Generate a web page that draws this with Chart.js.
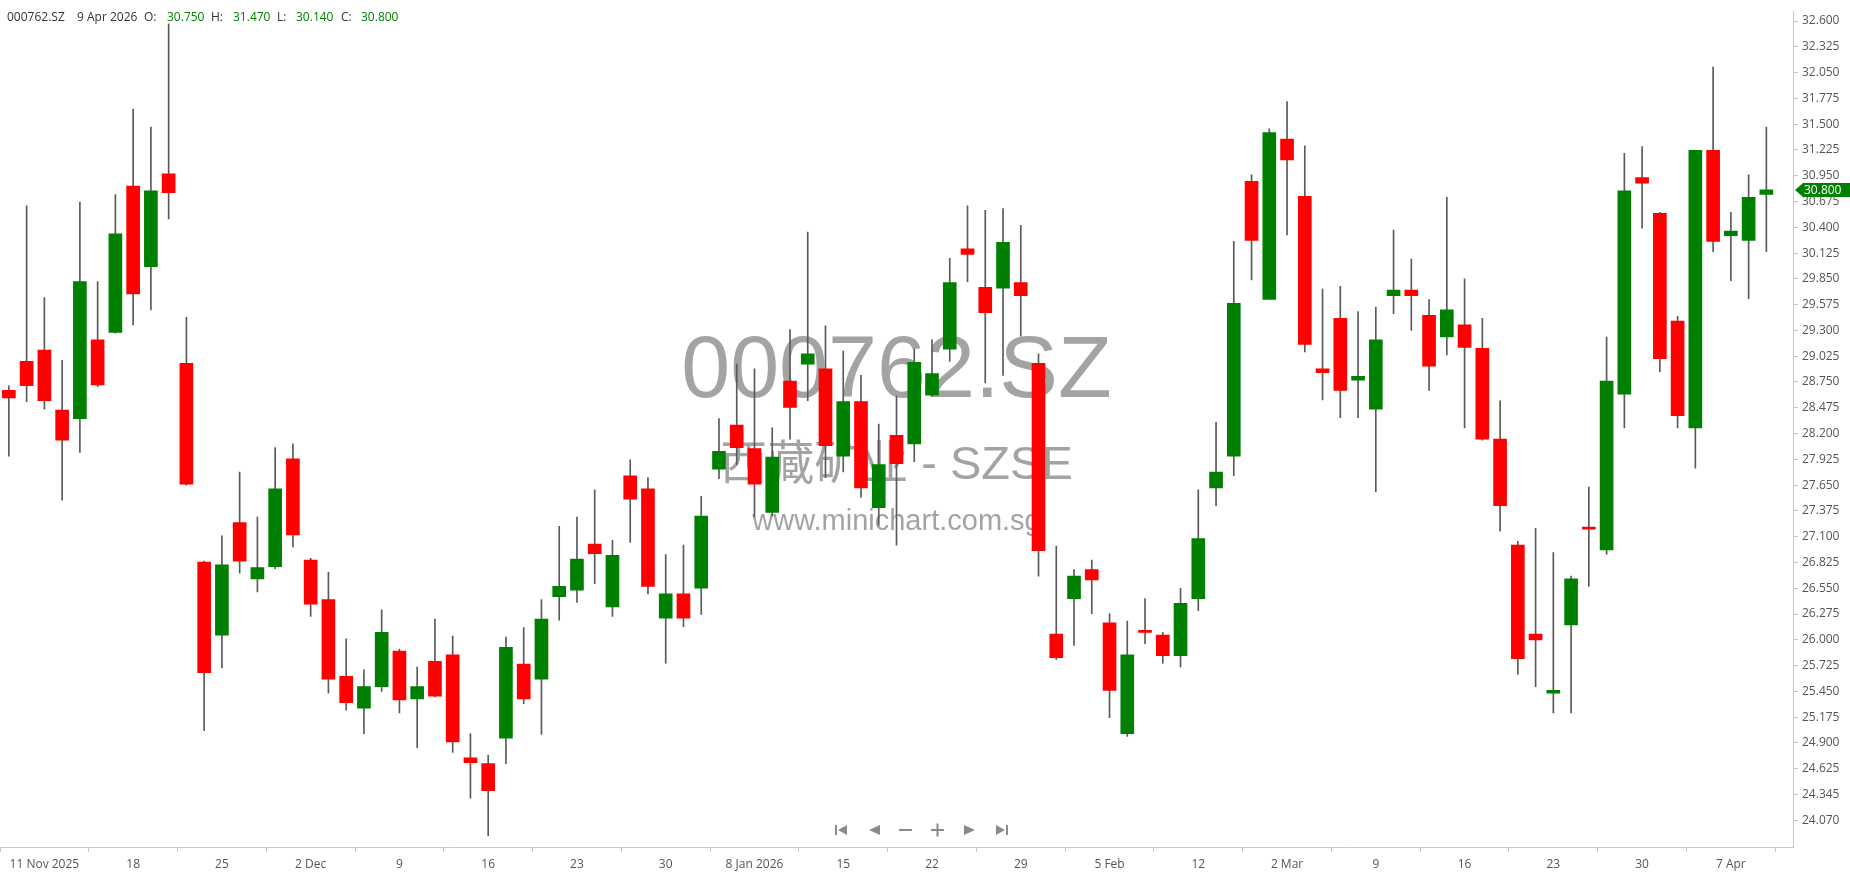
<!DOCTYPE html>
<html>
<head>
<meta charset="utf-8">
<script src="https://cdn.jsdelivr.net/npm/chart.js@4.4.1/dist/chart.umd.min.js"></script>
<style>
    html, body { margin: 0; padding: 0; background: #fff; }
    #wrap { width: 1850px; height: 874px; }
</style>
</head>
<body>
<div id="wrap"><canvas id="priceChart" width="1850" height="874"></canvas></div>
<script>
const symbol = '000762.SZ';
const companyName = '西藏矿业 - SZSE';
const siteName = 'www.minichart.com.sg';

// trading days shown on the chart
const dates = [
    '2025-11-07', '2025-11-10', '2025-11-11', '2025-11-12', '2025-11-13', '2025-11-14', '2025-11-17', '2025-11-18',
    '2025-11-19', '2025-11-20', '2025-11-21', '2025-11-24', '2025-11-25', '2025-11-26', '2025-11-27', '2025-11-28',
    '2025-12-01', '2025-12-02', '2025-12-03', '2025-12-04', '2025-12-05', '2025-12-08', '2025-12-09', '2025-12-10',
    '2025-12-11', '2025-12-12', '2025-12-15', '2025-12-16', '2025-12-17', '2025-12-18', '2025-12-19', '2025-12-22',
    '2025-12-23', '2025-12-24', '2025-12-25', '2025-12-26', '2025-12-29', '2025-12-30', '2025-12-31', '2026-01-05',
    '2026-01-06', '2026-01-07', '2026-01-08', '2026-01-09', '2026-01-12', '2026-01-13', '2026-01-14', '2026-01-15',
    '2026-01-16', '2026-01-19', '2026-01-20', '2026-01-21', '2026-01-22', '2026-01-23', '2026-01-26', '2026-01-27',
    '2026-01-28', '2026-01-29', '2026-01-30', '2026-02-02', '2026-02-03', '2026-02-04', '2026-02-05', '2026-02-06',
    '2026-02-09', '2026-02-10', '2026-02-11', '2026-02-12', '2026-02-13', '2026-02-25', '2026-02-26', '2026-02-27',
    '2026-03-02', '2026-03-03', '2026-03-04', '2026-03-05', '2026-03-06', '2026-03-09', '2026-03-10', '2026-03-11',
    '2026-03-12', '2026-03-13', '2026-03-16', '2026-03-17', '2026-03-18', '2026-03-19', '2026-03-20', '2026-03-23',
    '2026-03-24', '2026-03-25', '2026-03-26', '2026-03-27', '2026-03-30', '2026-03-31', '2026-04-01', '2026-04-02',
    '2026-04-03', '2026-04-07', '2026-04-08', '2026-04-09'
];

const open = [
    28.66, 28.97, 29.09, 28.45, 28.36, 29.20, 29.28, 30.84, 29.98, 30.97,
    28.95, 26.83, 26.05, 27.25, 26.65, 26.78, 27.93, 26.85, 26.43, 25.61,
    25.27, 25.50, 25.88, 25.37, 25.77, 25.84, 24.74, 24.68, 24.95, 25.74,
    25.58, 26.46, 26.53, 27.02, 26.35, 27.75, 27.61, 26.23, 26.49, 26.55,
    27.82, 28.29, 28.04, 27.36, 28.76, 28.94, 28.89, 27.96, 28.54, 27.41,
    28.18, 28.09, 28.61, 29.10, 30.17, 29.76, 29.75, 29.81, 28.95, 26.06,
    26.44, 26.75, 26.18, 25.00, 26.09, 26.05, 25.83, 26.44, 27.62, 27.96,
    30.89, 29.63, 31.34, 30.73, 28.89, 29.43, 28.77, 28.46, 29.67, 29.73,
    29.46, 29.23, 29.36, 29.11, 28.14, 27.01, 26.06, 25.43, 26.16, 27.19,
    26.96, 28.62, 30.93, 30.55, 29.40, 28.26, 31.22, 30.31, 30.26, 30.75
];
const high = [
    28.71, 30.63, 29.65, 28.98, 30.67, 29.82, 30.75, 31.66, 31.47, 32.57,
    29.44, 26.84, 27.11, 27.79, 27.31, 28.05, 28.09, 26.87, 26.72, 26.01,
    25.68, 26.32, 25.90, 25.71, 26.22, 26.04, 25.00, 24.77, 26.03, 26.13,
    26.43, 27.21, 27.31, 27.60, 27.06, 27.92, 27.73, 26.91, 27.01, 27.53,
    28.36, 28.94, 28.89, 28.26, 29.31, 30.35, 29.35, 29.08, 28.82, 28.30,
    28.60, 29.10, 29.20, 30.07, 30.63, 30.58, 30.60, 30.42, 29.05, 27.00,
    26.75, 26.85, 26.28, 26.20, 26.44, 26.08, 26.55, 27.60, 28.32, 30.25,
    30.96, 31.45, 31.74, 31.27, 29.74, 29.77, 29.50, 29.55, 30.37, 30.06,
    29.63, 30.72, 29.85, 29.43, 28.55, 27.05, 27.19, 26.93, 26.68, 27.63,
    29.23, 31.19, 31.26, 30.56, 29.45, 31.22, 32.11, 30.56, 30.96, 31.47
];
const low = [
    27.96, 28.54, 28.46, 27.49, 28.00, 28.70, 29.27, 29.36, 29.52, 30.49,
    27.65, 25.03, 25.70, 26.71, 26.51, 26.76, 26.99, 26.25, 25.43, 25.25,
    25.00, 25.45, 25.22, 24.85, 25.39, 24.80, 24.31, 23.91, 24.68, 25.32,
    24.99, 26.21, 26.40, 26.60, 26.25, 27.04, 26.49, 25.75, 26.14, 26.27,
    27.72, 27.87, 27.31, 27.32, 28.14, 28.55, 27.73, 27.79, 27.52, 27.22,
    27.01, 27.90, 28.60, 28.97, 29.82, 28.74, 28.82, 29.24, 26.68, 25.79,
    25.94, 26.28, 25.17, 24.97, 25.96, 25.75, 25.71, 26.31, 27.43, 27.75,
    29.84, 29.63, 30.32, 29.07, 28.56, 28.37, 28.37, 27.58, 29.48, 29.30,
    28.66, 29.04, 28.26, 28.13, 27.16, 25.63, 25.50, 25.22, 25.22, 26.57,
    26.91, 28.26, 30.39, 28.86, 28.26, 27.83, 30.14, 29.83, 29.64, 30.14
];
const close = [
    28.58, 28.71, 28.55, 28.13, 29.82, 28.72, 30.33, 29.69, 30.79, 30.77,
    27.66, 25.65, 26.80, 26.84, 26.77, 27.61, 27.12, 26.38, 25.58, 25.33,
    25.50, 26.08, 25.36, 25.50, 25.40, 24.91, 24.69, 24.39, 25.92, 25.37,
    26.22, 26.57, 26.86, 26.92, 26.90, 27.50, 26.57, 26.49, 26.23, 27.32,
    28.01, 28.05, 27.66, 27.95, 28.48, 29.05, 28.07, 28.54, 27.62, 27.87,
    27.88, 28.96, 28.84, 29.81, 30.11, 29.49, 30.24, 29.67, 26.95, 25.81,
    26.68, 26.64, 25.46, 25.84, 26.08, 25.83, 26.39, 27.08, 27.79, 29.59,
    30.26, 31.41, 31.12, 29.15, 28.85, 28.66, 28.81, 29.20, 29.73, 29.67,
    28.92, 29.52, 29.12, 28.14, 27.43, 25.80, 26.00, 25.46, 26.65, 27.18,
    28.76, 30.79, 30.87, 29.00, 28.39, 31.22, 30.25, 30.36, 30.72, 30.80
];

const xTickDates = [
    '2025-11-11', '2025-11-18', '2025-11-25', '2025-12-02', '2025-12-09', '2025-12-16', '2025-12-23',
    '2025-12-30', '2026-01-08', '2026-01-15', '2026-01-22', '2026-01-29', '2026-02-05', '2026-02-12',
    '2026-03-02', '2026-03-09', '2026-03-16', '2026-03-23', '2026-03-30', '2026-04-07'
];
const xTickLabels = [
    '11 Nov 2025', '18', '25', '2 Dec', '9', '16', '23',
    '30', '8 Jan 2026', '15', '22', '29', '5 Feb', '12',
    '2 Mar', '9', '16', '23', '30', '7 Apr'
];
const yTickLabels = [
    '32.600', '32.325', '32.050', '31.775', '31.500', '31.225', '30.950', '30.675',
    '30.400', '30.125', '29.850', '29.575', '29.300', '29.025', '28.750', '28.475',
    '28.200', '27.925', '27.650', '27.375', '27.100', '26.825', '26.550', '26.275',
    '26.000', '25.725', '25.450', '25.175', '24.900', '24.625', '24.345', '24.070'
];

const UP = '#008000';
const DOWN = '#ff0000';
const WICK = '#5a5a5a';
const AXIS = '#c8c8c8';
const FONT = "'Open Sans', 'Noto Sans', sans-serif";

const last = close.length - 1;
const monthNames = ['Jan', 'Feb', 'Mar', 'Apr', 'May', 'Jun', 'Jul', 'Aug', 'Sep', 'Oct', 'Nov', 'Dec'];
function longDate(s) {
    const p = s.split('-');
    return parseInt(p[2], 10) + ' ' + monthNames[parseInt(p[1], 10) - 1] + ' ' + p[0];
}

// big grey watermark behind the candles
const watermark = {
    id: 'watermark',
    beforeDatasetsDraw(chart) {
        const ctx = chart.ctx;
        const cx = (chart.chartArea.left + chart.chartArea.right) / 2;
        ctx.save();
        ctx.fillStyle = '#a3a3a3';
        ctx.textAlign = 'center';
        ctx.textBaseline = 'alphabetic';
        ctx.font = "88px 'Liberation Sans', Arial, sans-serif";
        ctx.fillText(symbol, cx, 397);
        ctx.font = "47px 'Liberation Sans', 'Noto Sans CJK SC', sans-serif";
        ctx.fillText(companyName, cx, 479);
        ctx.font = "29px 'Liberation Sans', Arial, sans-serif";
        ctx.fillText(siteName, cx, 530);
        ctx.restore();
    }
};

// OHLC header, last price tag, navigation buttons
const overlay = {
    id: 'overlay',
    afterDraw(chart) {
        const ctx = chart.ctx;
        ctx.save();
        ctx.font = '12px ' + FONT;
        ctx.textBaseline = 'middle';
        ctx.textAlign = 'left';
        const header = [
            [symbol, 7, '#333'], [longDate(dates[last]), 77, '#333'],
            ['O:', 144, '#333'], [open[last].toFixed(3), 167, UP],
            ['H:', 211, '#333'], [high[last].toFixed(3), 233, UP],
            ['L:', 277, '#333'], [low[last].toFixed(3), 296, UP],
            ['C:', 341, '#333'], [close[last].toFixed(3), 361, UP]
        ];
        header.forEach(h => {
            ctx.fillStyle = h[2];
            ctx.fillText(h[0], h[1], 18);
        });

        // last price tag on the y axis
        const yScale = chart.scales.y;
        const py = Math.round(yScale.getPixelForValue(close[last]));
        const ax = chart.chartArea.right + 2;
        ctx.fillStyle = close[last] >= open[last] ? UP : DOWN;
        ctx.beginPath();
        ctx.moveTo(ax, py);
        ctx.lineTo(ax + 8, py - 7);
        ctx.lineTo(1850, py - 7);
        ctx.lineTo(1850, py + 7);
        ctx.lineTo(ax + 8, py + 7);
        ctx.closePath();
        ctx.fill();
        ctx.fillStyle = '#fff';
        ctx.fillText(close[last].toFixed(3), ax + 9, py + 0.5);

        // navigation buttons
        ctx.fillStyle = '#8a8a8a';
        const tri = (x1, x2, tipLeft) => {
            ctx.beginPath();
            if (tipLeft) {
                ctx.moveTo(x1, 830); ctx.lineTo(x2, 825); ctx.lineTo(x2, 835);
            } else {
                ctx.moveTo(x1, 825); ctx.lineTo(x1, 835); ctx.lineTo(x2, 830);
            }
            ctx.closePath();
            ctx.fill();
        };
        ctx.fillRect(835, 825, 2, 10);
        tri(838, 847, true);
        tri(869, 880, true);
        ctx.fillRect(899, 829, 13, 2);
        ctx.fillRect(931, 829, 13, 2);
        ctx.fillRect(936.5, 823.5, 2, 13);
        tri(964, 975, false);
        tri(996, 1005, false);
        ctx.fillRect(1006, 825, 2, 10);
        ctx.restore();
    }
};

const ctx = document.getElementById('priceChart').getContext('2d');
new Chart(ctx, {
    type: 'bar',
    data: {
        datasets: [
            {
                label: 'body',
                data: dates.map((d, i) => ({ x: i, y: [open[i], close[i]] })),
                backgroundColor: close.map((c, i) => c > open[i] ? UP : DOWN),
                borderWidth: 0,
                barThickness: 13,
                minBarLength: 2,
                grouped: false,
                order: 1
            },
            {
                label: 'wick',
                data: dates.map((d, i) => ({ x: i, y: [low[i], high[i]] })),
                backgroundColor: WICK,
                borderWidth: 0,
                barThickness: 1,
                grouped: false,
                order: 2
            }
        ]
    },
    options: {
        responsive: false,
        animation: false,
        devicePixelRatio: 1,
        layout: { padding: 0 },
        plugins: {
            legend: { display: false },
            tooltip: { enabled: false }
        },
        scales: {
            x: {
                type: 'linear',
                min: -0.5,
                max: 100.5,
                offset: false,
                border: { color: AXIS },
                grid: { drawOnChartArea: false, color: AXIS, tickLength: 5 },
                afterBuildTicks: scale => {
                    scale.ticks = xTickDates.map(d => ({ value: dates.indexOf(d) }));
                },
                afterFit: scale => { scale.height = 27; },
                ticks: {
                    autoSkip: false,
                    maxRotation: 0,
                    padding: 5,
                    color: '#555',
                    font: { family: FONT, size: 12 },
                    callback: value => xTickLabels[xTickDates.indexOf(dates[value])]
                }
            },
            y: {
                position: 'right',
                min: 23.79,
                max: 32.705,
                border: { color: AXIS },
                grid: { drawOnChartArea: false, color: AXIS, tickLength: 5 },
                afterBuildTicks: scale => {
                    scale.ticks = yTickLabels.map(t => ({ value: parseFloat(t) }));
                },
                afterFit: scale => { scale.width = 57; },
                ticks: {
                    padding: 4,
                    color: '#555',
                    font: { family: FONT, size: 12 },
                    callback: (value, index) => yTickLabels[index]
                }
            }
        }
    },
    plugins: [watermark, overlay]
});
</script>
</body>
</html>
